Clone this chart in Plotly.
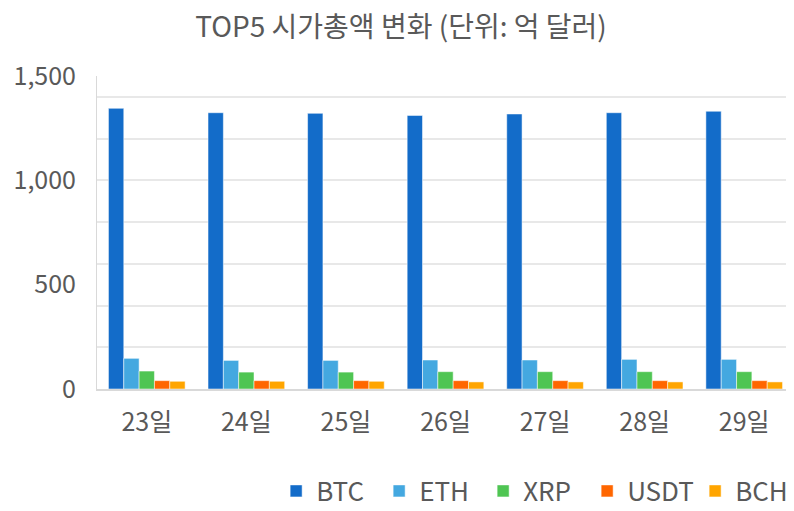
import plotly.graph_objects as go

days = ["23일", "24일", "25일", "26일", "27일", "28일", "29일"]
btc = [1345, 1324, 1321, 1311, 1318, 1324, 1331]
eth = [147, 137, 137, 139, 139, 142, 142]
xrp = [86, 81, 81, 83, 83, 83, 83]
usdt = [40, 40, 40, 40, 40, 40, 40]
bch = [37, 37, 37, 34, 34, 34, 34]

series = [("BTC", btc, "#136CC9", 58), ("ETH", eth, "#44A8E0", 59), ("XRP", xrp, "#4FC553", 59),
          ("USDT", usdt, "#FF6600", 63), ("BCH", bch, "#FFA500", 56)]

font_family = "Noto Sans CJK KR, Noto Sans, sans-serif"
gray = "#595959"

fig = go.Figure()
for name, vals, color, lw in series:
    fig.add_trace(go.Bar(x=days, y=vals, name=name, legendwidth=lw,
                         marker=dict(color=color, line=dict(color="rgba(255,255,255,0.5)", width=1))))

# page body has an 8px margin, so the figure is 8px smaller than the window
fig.update_layout(
    width=786, height=503,
    margin=dict(l=89, r=0, t=68, b=122, autoexpand=False),
    paper_bgcolor="white", plot_bgcolor="white",
    barmode="group", bargap=0.23, bargroupgap=0,
    title=dict(text="TOP5 시가총액 변화 (단위: 억 달러)", x=0.5, xanchor="center", y=0.962, yanchor="middle",
               font=dict(family=font_family, size=28, color=gray)),
    font=dict(family=font_family, color=gray),
    showlegend=True,
    legend=dict(orientation="h", x=0.257, xanchor="left", y=-0.401, yanchor="bottom",
                font=dict(size=26, color=gray), itemwidth=30, traceorder="normal"),
    xaxis=dict(showgrid=False, showline=True, linecolor="#D9D9D9", linewidth=2,
               tickfont=dict(size=25, color=gray), ticks="", ticklabelstandoff=10),
    yaxis=dict(range=[0, 1500], tickvals=[0, 500, 1000, 1500], tickformat=",d",
               showgrid=False, showline=True, linecolor="#D9D9D9", linewidth=1,
               zeroline=False, tickfont=dict(size=25, color=gray), ticks="", ticklabelstandoff=15,
               minor=dict(dtick=200, tick0=0, showgrid=True, gridcolor="#E8E8E8", gridwidth=2)),
)

fig.write_html("out.html")
